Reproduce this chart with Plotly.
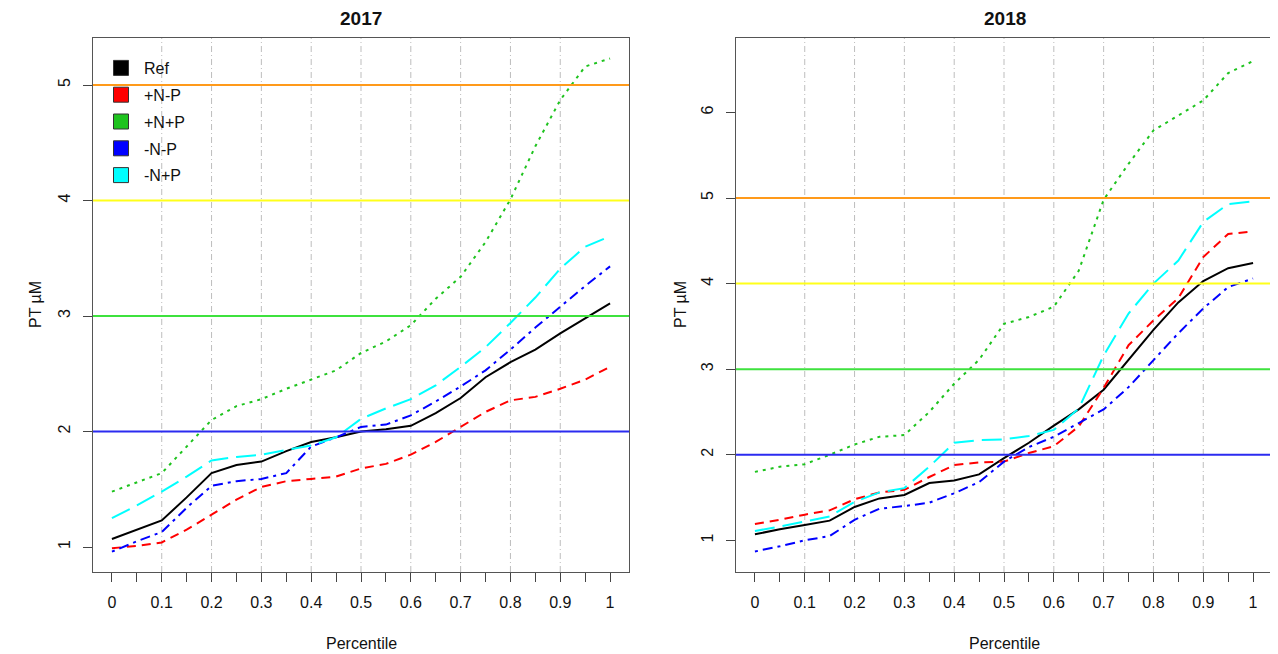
import plotly.graph_objects as go

# ---------------- data ----------------
percentile = [0, 0.05, 0.1, 0.15, 0.2, 0.25, 0.3, 0.35, 0.4, 0.45, 0.5,
              0.55, 0.6, 0.65, 0.7, 0.75, 0.8, 0.85, 0.9, 0.95, 1]
tick_labels = ["0", "", "0.1", "", "0.2", "", "0.3", "", "0.4", "", "0.5",
               "", "0.6", "", "0.7", "", "0.8", "", "0.9", "", "1"]
grid_x = [0.1, 0.2, 0.3, 0.4, 0.5, 0.6, 0.7, 0.8, 0.9]
thresholds = [2, 3, 4, 5]
threshold_colors = ["#2b2bf0", "#3ee23e", "#ffff1a", "#ff9a1a"]

series_names = ["Ref", "+N-P", "+N+P", "-N-P", "-N+P"]
series_colors = ["#000000", "#ff0000", "#1ec31e", "#0000ff", "#00ffff"]
series_dash = ["solid", "9px,6px", "3px,5px", "3px,5px,10px,5px", "20px,8px"]

ref17 = [1.07, 1.15, 1.23, 1.43, 1.64, 1.71, 1.74, 1.83, 1.91, 1.95, 2.00,
         2.02, 2.05, 2.16, 2.29, 2.47, 2.60, 2.71, 2.85, 2.98, 3.11]
npm17 = [0.99, 1.01, 1.04, 1.15, 1.28, 1.41, 1.52, 1.57, 1.59, 1.61, 1.68,
         1.72, 1.80, 1.91, 2.04, 2.17, 2.27, 2.30, 2.37, 2.45, 2.56]
npp17 = [1.48, 1.56, 1.64, 1.87, 2.10, 2.22, 2.28, 2.37, 2.45, 2.53, 2.68,
         2.78, 2.92, 3.15, 3.34, 3.64, 4.01, 4.47, 4.87, 5.16, 5.23]
nmm17 = [0.96, 1.05, 1.13, 1.34, 1.53, 1.57, 1.59, 1.64, 1.87, 1.95, 2.04,
         2.06, 2.14, 2.26, 2.39, 2.53, 2.71, 2.90, 3.08, 3.26, 3.43]
nmp17 = [1.25, 1.36, 1.48, 1.61, 1.75, 1.78, 1.80, 1.84, 1.88, 1.95, 2.11,
         2.20, 2.28, 2.40, 2.56, 2.73, 2.94, 3.16, 3.41, 3.60, 3.69]

ref18 = [1.07, 1.13, 1.18, 1.23, 1.39, 1.49, 1.53, 1.67, 1.70, 1.77, 1.96,
         2.14, 2.34, 2.53, 2.76, 3.11, 3.46, 3.78, 4.03, 4.18, 4.24]
npm18 = [1.19, 1.24, 1.30, 1.35, 1.48, 1.56, 1.59, 1.74, 1.88, 1.91, 1.92,
         2.02, 2.10, 2.33, 2.78, 3.28, 3.57, 3.83, 4.31, 4.58, 4.61]
npp18 = [1.80, 1.86, 1.89, 2.00, 2.12, 2.21, 2.23, 2.50, 2.83, 3.11, 3.53,
         3.61, 3.73, 4.15, 4.98, 5.40, 5.79, 5.97, 6.14, 6.46, 6.60]
nmm18 = [0.87, 0.93, 1.00, 1.05, 1.24, 1.37, 1.40, 1.44, 1.55, 1.68, 1.92,
         2.09, 2.21, 2.37, 2.53, 2.79, 3.11, 3.42, 3.71, 3.96, 4.06]
nmp18 = [1.11, 1.16, 1.22, 1.28, 1.45, 1.56, 1.61, 1.86, 2.14, 2.17, 2.18,
         2.22, 2.29, 2.54, 3.16, 3.65, 4.00, 4.27, 4.72, 4.93, 4.96]

panels = [
    ("2017", "x", "y", [ref17, npm17, npp17, nmm17, nmp17], [0.784, 5.407], [1, 2, 3, 4, 5]),
    ("2018", "x2", "y2", [ref18, npm18, npp18, nmm18, nmp18], [0.63, 6.87], [1, 2, 3, 4, 5, 6]),
]

# the page body has an 8px margin: the figure starts at (8, 8) in the window
OFF = 8
W, H = 1278 - OFF, 654 - OFF
FONT = "Liberation Sans, Arial, Helvetica, sans-serif"

fig = go.Figure()
shapes = []
annotations = []

for title, xr, yr, data, yrange, yticks in panels:
    # vertical dash-dot grid
    for g in grid_x:
        shapes.append(dict(type="line", xref=xr, yref=yr + " domain", x0=g, x1=g, y0=0, y1=1,
                           line=dict(color="#bdbdbd", width=1, dash="6px,3px,1px,3px"), layer="below"))
    # threshold lines
    for t, c in zip(thresholds, threshold_colors):
        shapes.append(dict(type="line", xref=xr + " domain", yref=yr, x0=0, x1=1, y0=t, y1=t,
                           line=dict(color=c, width=2), layer="above"))
    for name, col, dash, vals in zip(series_names, series_colors, series_dash, data):
        fig.add_trace(go.Scatter(x=percentile, y=vals, mode="lines", name=name,
                                 xaxis=xr, yaxis=yr, showlegend=False,
                                 line=dict(color=col, width=2, dash=dash)))

# legend entries (filled squares, as in the reference)
for i, (name, col) in enumerate(zip(series_names, series_colors)):
    fig.add_trace(go.Scatter(x=[None], y=[None], mode="markers", name=name,
                             xaxis="x", yaxis="y", legendgroup="g%d" % i,
                             marker=dict(symbol="square", size=15, color=col,
                                         line=dict(color="#333333", width=1))))

def px_x(p):
    return (p - OFF) / W

def px_y(p):
    return 1 - (p - OFF) / H

xdom1 = [px_x(93), px_x(629)]
xdom2 = [px_x(736), px_x(1273)]
ydom = [px_y(572), px_y(38)]

axis_common = dict(showline=True, mirror=True, linecolor="#555555", linewidth=1,
                   ticks="outside", ticklen=9, tickcolor="#444444", tickwidth=1,
                   showgrid=False, zeroline=False,
                   tickfont=dict(family=FONT, size=16, color="#111111"))

fig.update_layout(
    width=W, height=H,
    margin=dict(l=0, r=0, t=0, b=0, autoexpand=False),
    paper_bgcolor="white", plot_bgcolor="white",
    font=dict(family=FONT, size=16, color="#111111"),
    xaxis=dict(domain=xdom1, range=[-0.038, 1.038], anchor="y", ticklabelstandoff=7,
               tickvals=percentile, ticktext=tick_labels, automargin=False, **axis_common),
    yaxis=dict(domain=ydom, range=panels[0][4], anchor="x", tickvals=panels[0][5],
               ticklabelstandoff=7, tickangle=-90, automargin=False, **axis_common),
    xaxis2=dict(domain=xdom2, range=[-0.038, 1.04], anchor="y2", ticklabelstandoff=7,
                tickvals=percentile, ticktext=tick_labels, automargin=False, **axis_common),
    yaxis2=dict(domain=ydom, range=panels[1][4], anchor="x2", tickvals=panels[1][5],
                ticklabelstandoff=7, tickangle=-90, automargin=False, **axis_common),
    showlegend=True,
    legend=dict(x=px_x(98), y=px_y(51), xanchor="left", yanchor="top",
                bgcolor="rgba(0,0,0,0)", borderwidth=0, tracegroupgap=3,
                font=dict(family=FONT, size=16, color="#111111"), itemwidth=36),
    shapes=shapes,
)

for title, cx in [("2017", (93 + 629) / 2), ("2018", (736 + 1273) / 2)]:
    annotations.append(dict(text="<b>%s</b>" % title, x=px_x(cx), y=px_y(19), xref="paper", yref="paper",
                            showarrow=False, font=dict(family=FONT, size=19, color="#111111"),
                            xanchor="center", yanchor="middle"))
    annotations.append(dict(text="Percentile", x=px_x(cx), y=px_y(643), xref="paper", yref="paper",
                            showarrow=False, font=dict(family=FONT, size=16, color="#111111"),
                            xanchor="center", yanchor="middle"))
for lx in [35, 680]:
    annotations.append(dict(text="PT µM", x=px_x(lx), y=px_y(305), xref="paper", yref="paper",
                            showarrow=False, textangle=-90,
                            font=dict(family=FONT, size=16, color="#111111"),
                            xanchor="center", yanchor="middle"))
fig.update_layout(annotations=annotations)

fig.write_html("out.html")
